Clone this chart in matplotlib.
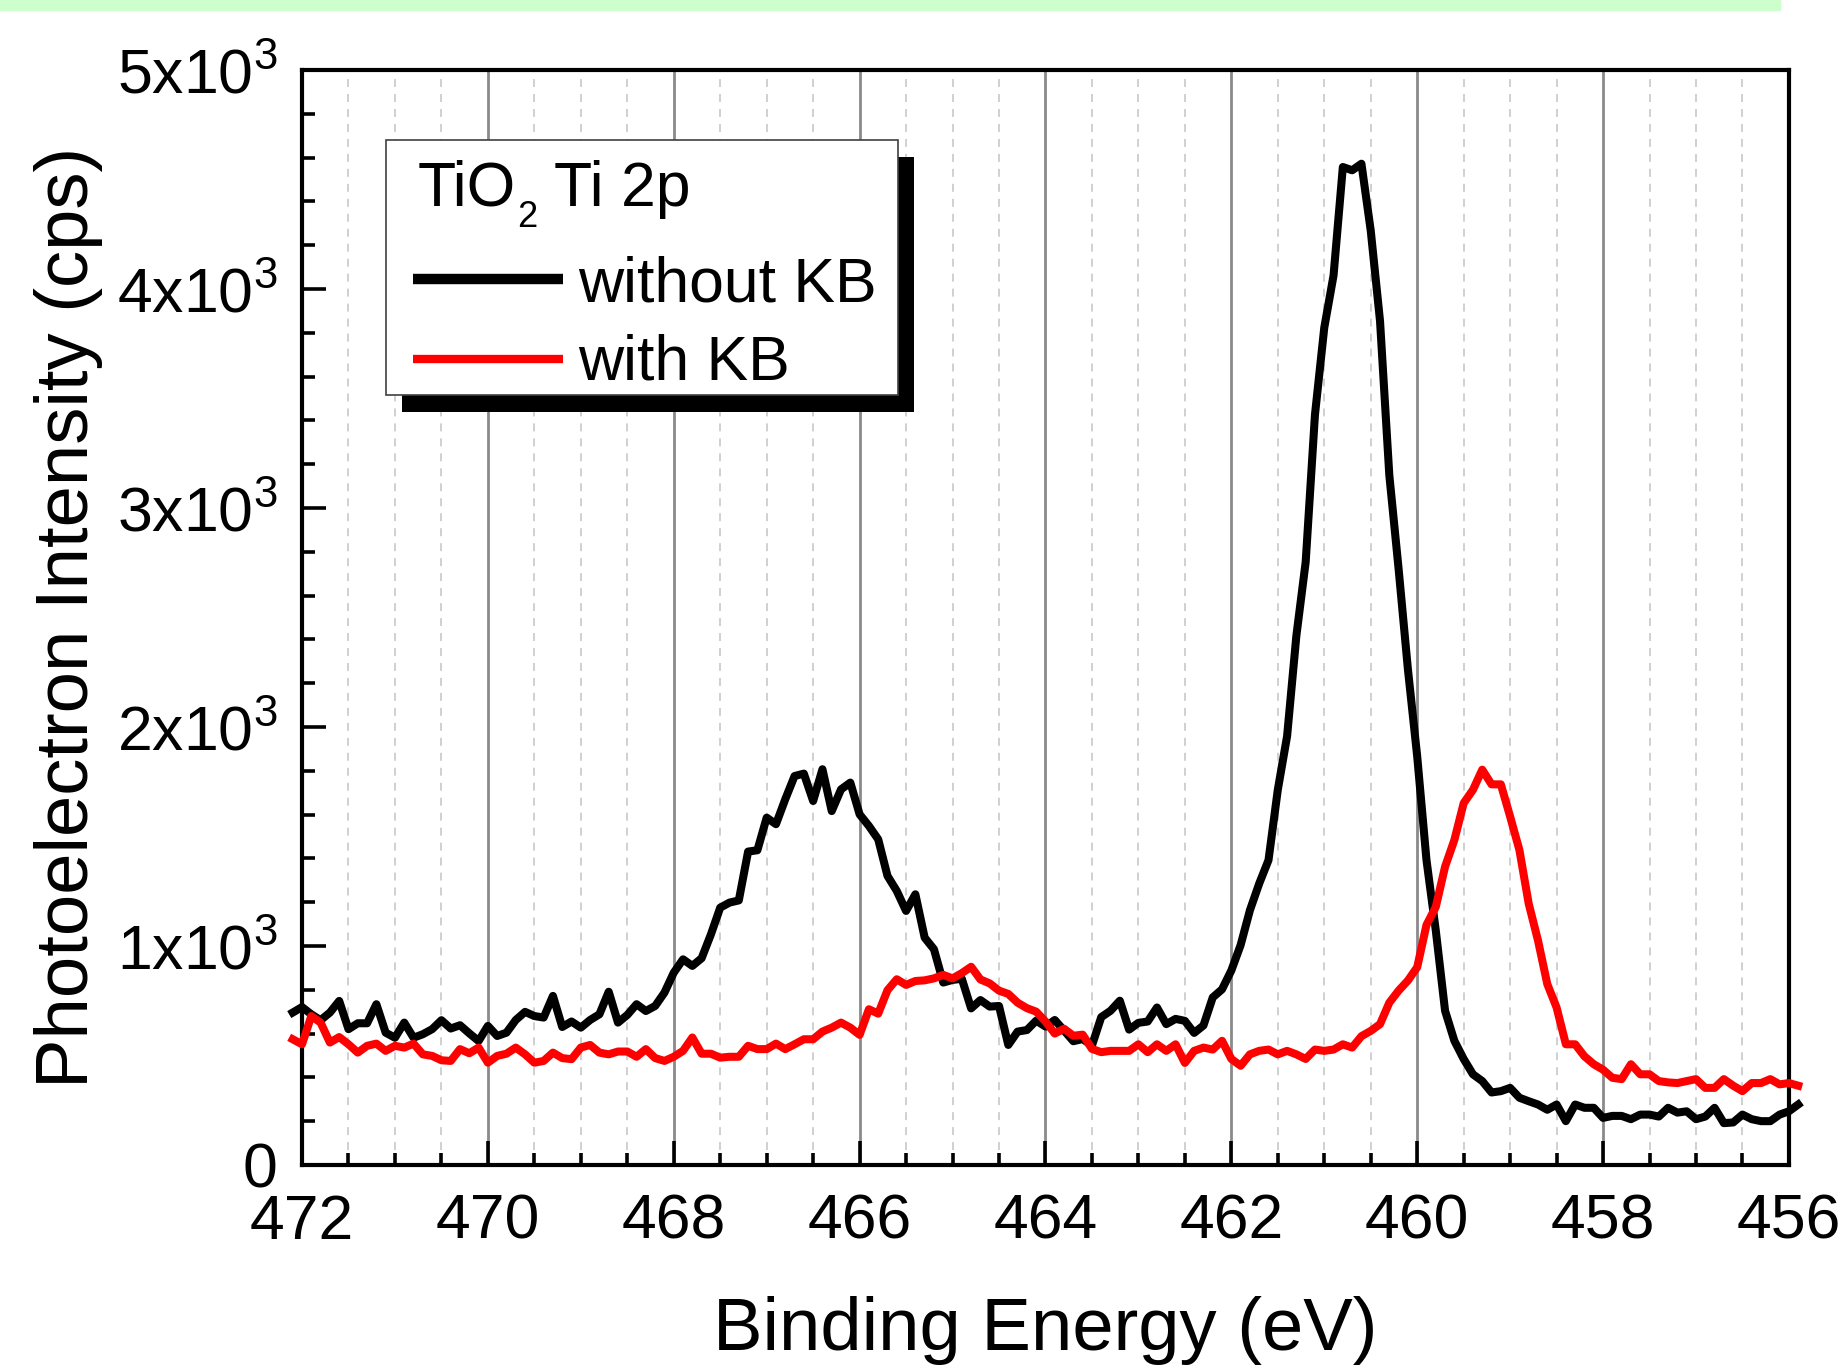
import numpy as np
import matplotlib
matplotlib.use("Agg")
import matplotlib.pyplot as plt
from matplotlib.lines import Line2D
from matplotlib.patches import Rectangle
from matplotlib.ticker import MultipleLocator, FixedLocator, FixedFormatter
from matplotlib.transforms import Affine2D

plt.rcParams["font.family"] = ["Liberation Sans", "DejaVu Sans"]
plt.rcParams["mathtext.fontset"] = "custom"
plt.rcParams["mathtext.rm"] = "Liberation Sans"

# Ti 2p scan, 0.1 eV steps from 472.1 down to 455.9 eV
energy = np.round(np.arange(472.1, 455.85, -0.1), 1)

without_kb = [
    696, 721, 688, 661, 696, 749, 620, 647, 647, 734,
    604, 581, 650, 581, 597, 620, 661, 623, 638, 601,
    566, 635, 589, 604, 662, 699, 680, 673, 772, 630,
    655, 627, 662, 688, 791, 650, 685, 734, 703, 726,
    787, 878, 939, 909, 944, 1053, 1175, 1198, 1208, 1431,
    1437, 1586, 1556, 1670, 1776, 1787, 1662, 1807, 1616, 1715,
    1746, 1601, 1548, 1487, 1320, 1251, 1160, 1236, 1038, 985,
    833, 845, 850, 715, 753, 723, 726, 548, 609, 616,
    659, 632, 662, 614, 565, 575, 545, 675, 704, 750,
    618, 649, 655, 719, 643, 667, 658, 603, 637, 765,
    802, 888, 1004, 1163, 1285, 1392, 1713, 1958, 2417, 2753,
    3426, 3823, 4062, 4557, 4542, 4572, 4267, 3854, 3150, 2722,
    2264, 1866, 1392, 1071, 704, 567, 484, 414, 383, 331,
    337, 352, 307, 291, 276, 252, 276, 200, 276, 261,
    261, 215, 224, 224, 209, 230, 230, 221, 261, 239,
    245, 209, 221, 261, 191, 194, 230, 209, 200, 200,
    230, 245, 276,
]

with_kb = [
    574, 551, 680, 650, 559, 584, 551, 513, 544, 554,
    521, 544, 536, 554, 505, 498, 478, 475, 529, 510,
    536, 467, 498, 508, 536, 505, 467, 475, 513, 488,
    483, 536, 548, 513, 505, 518, 518, 494, 529, 488,
    475, 494, 521, 582, 508, 508, 490, 494, 494, 544,
    529, 529, 554, 529, 551, 574, 574, 609, 627, 650,
    627, 594, 711, 691, 798, 848, 822, 840, 843, 852,
    868, 852, 876, 905, 847, 829, 796, 781, 741, 716,
    700, 655, 600, 622, 590, 595, 530, 515, 521, 521,
    521, 551, 515, 551, 521, 551, 466, 521, 536, 527,
    567, 484, 453, 505, 521, 527, 505, 521, 505, 484,
    527, 521, 527, 551, 536, 588, 612, 643, 741, 796,
    842, 903, 1096, 1178, 1362, 1484, 1652, 1713, 1805, 1738,
    1738, 1591, 1438, 1193, 1025, 826, 719, 551, 551, 496,
    460, 435, 398, 392, 460, 414, 414, 383, 377, 374,
    383, 392, 352, 352, 392, 362, 337, 374, 374, 392,
    368, 374, 362,
]

series_labels = ["without KB", "with KB"]
y_ticks = [0, 1000, 2000, 3000, 4000, 5000]
y_tick_labels = ["0", r"$\mathregular{1x10^3}$", r"$\mathregular{2x10^3}$",
                 r"$\mathregular{3x10^3}$", r"$\mathregular{4x10^3}$",
                 r"$\mathregular{5x10^3}$"]
x_ticks = [472, 470, 468, 466, 464, 462, 460, 458, 456]

W, H, DPI = 1845, 1367, 100
TICK_FS = 45
LABEL_FS = 53.5
RED = "#ff0000"

fig = plt.figure(figsize=(W / DPI, H / DPI), dpi=DPI)
ax = fig.add_axes([0.1637, 0.1478, 0.9696 - 0.1637, 0.9488 - 0.1478])

# pixel coordinates measured from the top-left corner of the image
px = Affine2D().scale(1, -1).translate(0, H)

# pale green strip along the top edge
fig.patches.append(Rectangle((0, 0), 1780, 10, transform=px,
                             color="#ccffcc", zorder=0))

ax.plot(energy, without_kb, color="black", lw=5.8, clip_on=False, zorder=3)
ax.plot(energy, with_kb, color=RED, lw=5.8, clip_on=False, zorder=3)

ax.set_xlim(472, 456)
ax.set_ylim(0, 5000)

ax.xaxis.set_major_locator(FixedLocator(x_ticks))
ax.xaxis.set_minor_locator(MultipleLocator(0.5))
ax.yaxis.set_major_locator(FixedLocator(y_ticks))
ax.yaxis.set_major_formatter(FixedFormatter(y_tick_labels))
ax.yaxis.set_minor_locator(MultipleLocator(200))

ax.grid(True, which="major", axis="x", color="#8a8a8a", lw=2.0, ls="-")
ax.grid(True, which="minor", axis="x", color="#c4c4c4", lw=1.1,
        ls=(0, (5.2, 4.6)))
ax.set_axisbelow(True)

for side in ax.spines.values():
    side.set_linewidth(3.0)

ax.tick_params(which="both", direction="in", width=2.6, top=False,
               right=False, labelsize=TICK_FS)
ax.tick_params(which="major", length=17)
ax.tick_params(which="minor", length=9)
ax.tick_params(axis="x", which="major", pad=20)
ax.tick_params(axis="y", which="major", pad=18)

ax.set_xlabel("Binding Energy (eV)", fontsize=LABEL_FS, labelpad=32)
ax.set_ylabel("Photoelectron Intensity (cps)", fontsize=LABEL_FS, labelpad=10)

# legend box with a solid drop shadow, laid out in pixels
box_x0, box_y0, box_x1, box_y1 = 386, 140, 898, 395
box_w, box_h = box_x1 - box_x0, box_y1 - box_y0
ax.add_patch(Rectangle((box_x0 + 16, box_y0 + 17), box_w, box_h,
                       transform=px, facecolor="black", edgecolor="none",
                       zorder=5.5, clip_on=False))
ax.add_patch(Rectangle((box_x0, box_y0), box_w, box_h, transform=px,
                       facecolor="white", edgecolor="#404040", lw=1.2,
                       zorder=6, clip_on=False))

fig.canvas.draw()
renderer = fig.canvas.get_renderer()
t1 = ax.text(418, 206, "TiO", transform=px, fontsize=TICK_FS,
             va="baseline", ha="left", zorder=7)
x_sub = t1.get_window_extent(renderer).x1 + 1
t2 = ax.text(x_sub, 227, "2", transform=px, fontsize=26,
             va="baseline", ha="left", zorder=7)
x_rest = t2.get_window_extent(renderer).x1 + 17
ax.text(x_rest, 206, "Ti 2p", transform=px, fontsize=TICK_FS,
        va="baseline", ha="left", zorder=7)

for label, color, lw, y_line, y_text in zip(series_labels, ["black", RED],
                                            [7.5, 6.0], [279, 359],
                                            [302, 380]):
    ax.add_line(Line2D([413, 563], [y_line, y_line], transform=px,
                       color=color, lw=lw, solid_capstyle="butt",
                       zorder=7, clip_on=False))
    ax.text(578, y_text, label, transform=px, fontsize=TICK_FS,
            va="baseline", ha="left", zorder=7)

fig.savefig("out.png", dpi=DPI)
